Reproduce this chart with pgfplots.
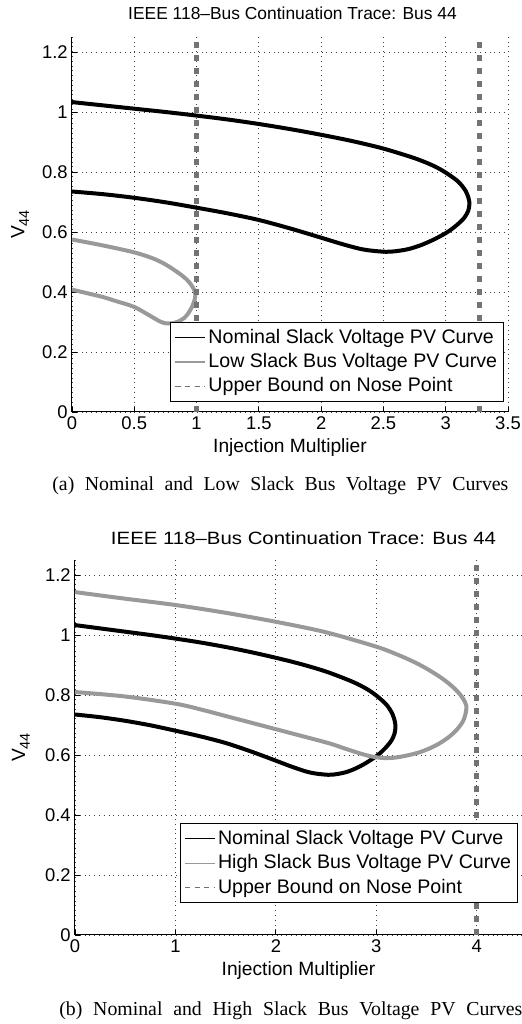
\documentclass[border=0pt]{standalone}
\usepackage{fontspec}
\setmainfont{Liberation Sans}
\newfontfamily\capfont{Liberation Serif}
\usepackage{graphicx}
\usepackage{pgfplots}
\pgfplotsset{compat=1.18}

\definecolor{slackgray}{gray}{0.6}
\definecolor{boundgray}{gray}{0.45}

% nominal slack voltage PV curve (same in both panels)
\pgfplotstableread{
x y
0 1.033
0.25 1.022
0.5 1.011
0.75 1.000
1.0 0.988
1.25 0.975
1.5 0.960
1.75 0.943
2.0 0.924
2.25 0.903
2.5 0.878
2.75 0.846
2.9 0.821
3.0 0.798
3.1 0.768
3.16 0.737
3.185 0.710
3.19 0.692
3.18 0.670
3.15 0.648
3.1 0.627
3.04 0.607
3.0 0.596
2.9 0.574
2.8 0.556
2.7 0.543
2.6 0.536
2.52 0.534
2.4 0.538
2.3 0.545
2.15 0.562
2.0 0.581
1.75 0.612
1.5 0.640
1.25 0.662
1.0 0.681
0.75 0.699
0.5 0.714
0.25 0.726
0 0.735
}\nominal

\pgfplotstableread{
x y
0 0.575
0.25 0.555
0.5 0.532
0.65 0.512
0.75 0.492
0.85 0.465
0.92 0.442
0.96 0.422
0.983 0.405
0.99 0.390
0.984 0.373
0.965 0.352
0.935 0.330
0.9 0.313
0.85 0.301
0.8 0.295
0.76 0.295
0.71 0.301
0.65 0.315
0.5 0.350
0.35 0.370
0.25 0.383
0.1 0.398
0 0.408
}\lowslack

\pgfplotstableread{
x y
0 1.143
0.5 1.121
1.0 1.100
1.5 1.074
2.0 1.044
2.5 1.009
3.0 0.961
3.2 0.936
3.37 0.911
3.5 0.888
3.63 0.861
3.73 0.836
3.81 0.811
3.865 0.787
3.895 0.765
3.89 0.740
3.86 0.711
3.8 0.684
3.73 0.662
3.63 0.639
3.53 0.622
3.42 0.608
3.3 0.598
3.18 0.591
3.07 0.590
2.97 0.594
2.87 0.602
2.7 0.620
2.54 0.638
2.25 0.664
2.0 0.686
1.75 0.708
1.5 0.730
1.25 0.752
1.0 0.771
0.5 0.795
0 0.810
}\highslack

\pgfplotsset{
  pvaxis/.style={
    scale only axis, anchor=south west,
    axis x line*=bottom, axis y line*=left,
    ymin=0, ymax=1.25, ytick={0,0.2,0.4,0.6,0.8,1,1.2},
    grid=major, major grid style={black!75, dotted, line width=0.4pt},
    tick align=inside, major tick length=2.5pt,
    axis line style={line width=0.5pt},
    tick style={black, line width=0.4pt},
    /pgf/number format/assume math mode=true,
    tick label style={font=\fontsize{9.2}{9.2}\selectfont},
    xticklabel style={inner sep=0pt, yshift=-2pt},
    yticklabel style={inner sep=0pt, xshift=-2pt},
    xlabel={Injection Multiplier},
    ylabel={V\raisebox{-0.45ex}{\fontsize{7.2}{7.2}\selectfont 44}},
    label style={font=\fontsize{9.6}{9.6}\selectfont, inner sep=0pt},
    xlabel style={at={(axis description cs:0.5,0)}, anchor=north, yshift=-13pt},
    legend cell align=left,
    legend style={draw=black, line width=0.5pt, fill=white,
      font=\fontsize{9.8}{9.8}\selectfont, inner xsep=2pt, inner ysep=2pt,
      row sep=1.2pt, anchor=south east,
      nodes={inner sep=1.2pt}},
    legend image code/.code={\draw[##1] (0pt,0pt) -- (15pt,0pt);},
  },
  curve/.style={line width=2pt, forget plot, smooth, tension=0.5},
  bound/.style={boundgray, line width=2.5pt, dash pattern=on 3pt off 3.5pt, forget plot},
}

\begin{document}
\begin{tikzpicture}
\useasboundingbox (0,0) rectangle (261pt,512pt);

% (a) nominal and low slack bus voltage
\begin{axis}[pvaxis,
  at={(36pt,306pt)}, width=218pt, height=187.5pt,
  xmin=0, xmax=3.5, xtick={0,0.5,1,1.5,2,2.5,3,3.5},
  ylabel style={at={(axis description cs:-0.119,0.5)}, anchor=center},
  legend style={at={(0.991,0.027)}},
]
\addlegendimage{black, line width=0.6pt}
\addlegendentry{Nominal Slack Voltage PV Curve}
\addlegendimage{slackgray, line width=0.6pt}
\addlegendentry{Low Slack Bus Voltage PV Curve}
\addlegendimage{boundgray, line width=0.6pt, dash pattern=on 2.6pt off 2.2pt}
\addlegendentry{Upper Bound on Nose Point}
\addplot[curve, black] table {\nominal};
\addplot[curve, slackgray] table {\lowslack};
\addplot[bound] coordinates {(1,0) (1,1.25)};
\addplot[bound] coordinates {(3.27,0) (3.27,1.25)};
\end{axis}

% (b) nominal and high slack bus voltage
\begin{axis}[pvaxis,
  at={(37.5pt,44.5pt)}, width=223.5pt, height=187.5pt,
  xmin=0, xmax=4.45, xtick={0,1,2,3,4},
  ylabel style={at={(axis description cs:-0.121,0.5)}, anchor=center},
  legend style={at={(0.991,0.085)}},
]
\addlegendimage{black, line width=0.6pt}
\addlegendentry{Nominal Slack Voltage PV Curve}
\addlegendimage{slackgray, line width=0.6pt}
\addlegendentry{High Slack Bus Voltage PV Curve}
\addlegendimage{boundgray, line width=0.6pt, dash pattern=on 2.6pt off 2.2pt}
\addlegendentry{Upper Bound on Nose Point}
\addplot[curve, black] table {\nominal};
\addplot[curve, slackgray] table {\highslack};
\addplot[bound] coordinates {(4,0) (4,1.25)};
\end{axis}

% titles and sub-captions
\node[anchor=base, inner sep=0pt, font=\fontsize{8.7}{8.7}\selectfont]
  at (146.25pt,502pt) {IEEE 118--Bus Continuation Trace: Bus 44};
\node[anchor=base, inner sep=0pt, font=\fontsize{8.9}{8.9}\selectfont]
  at (151.75pt,239.5pt) {\resizebox{192.5pt}{\height}{IEEE 118--Bus Continuation Trace: Bus 44}};
\node[anchor=base west, inner sep=0pt, font=\capfont\fontsize{9.9}{9.9}\selectfont]
  at (26pt,266.5pt) {\makebox[228pt][s]{(a) Nominal and Low Slack Bus Voltage PV Curves}};
\node[anchor=base west, inner sep=0pt, font=\capfont\fontsize{9.9}{9.9}\selectfont]
  at (29.5pt,4.5pt) {\makebox[231.5pt][s]{(b) Nominal and High Slack Bus Voltage PV Curves}};
\end{tikzpicture}
\end{document}
